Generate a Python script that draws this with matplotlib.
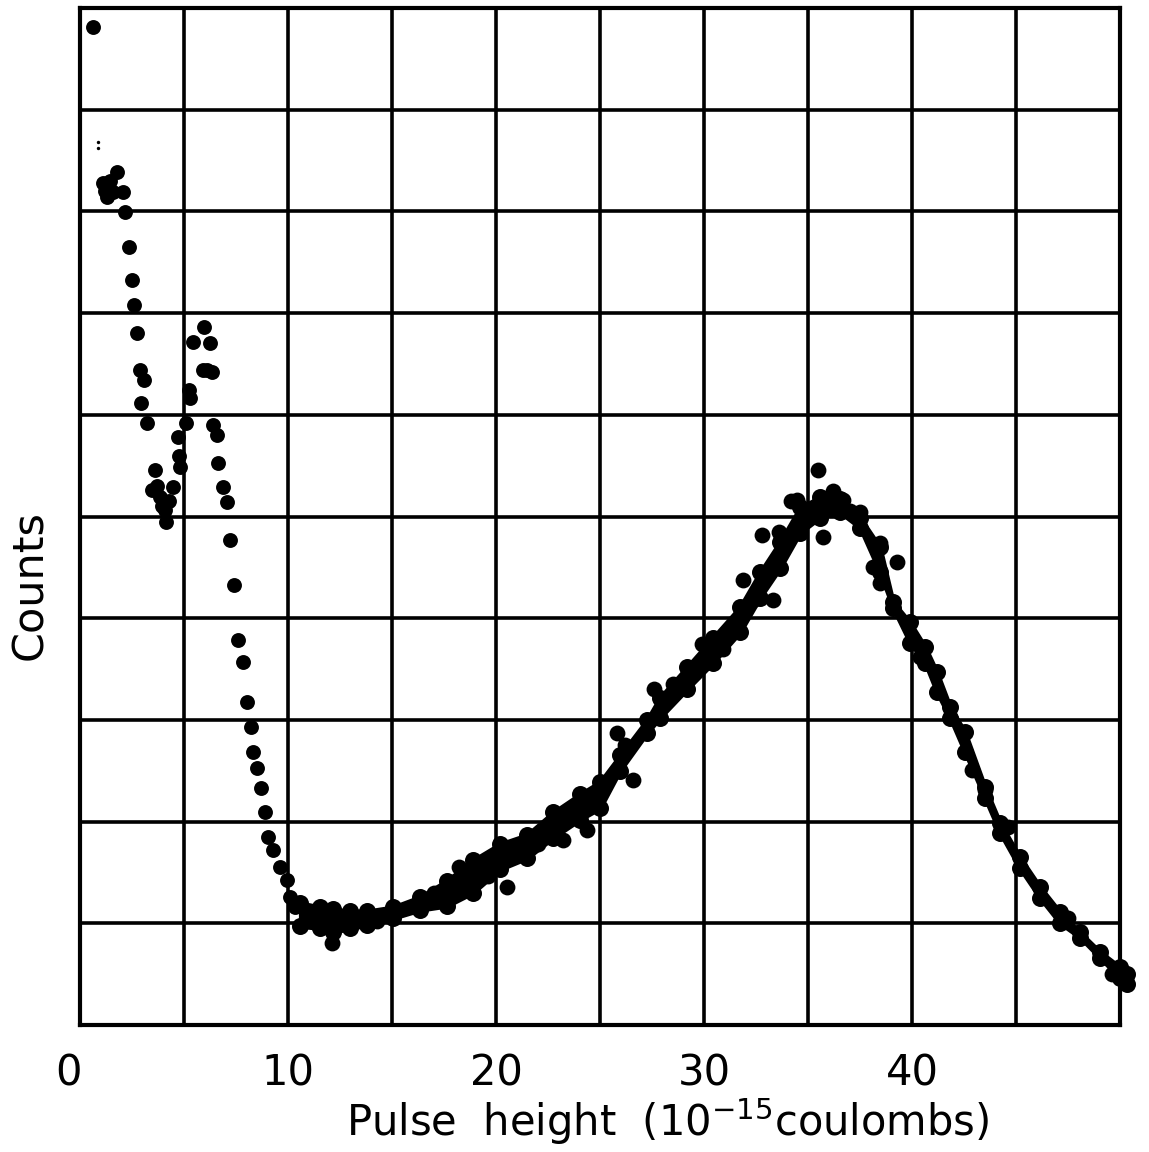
import matplotlib
matplotlib.use("Agg")
import matplotlib.pyplot as plt
from matplotlib.transforms import ScaledTranslation

# ---- data (pulse height in 1e-15 C, counts in grid units) ----
# sparse low-energy dots
dots_x = [0.63, 1.78, 1.11, 1.30, 1.59, 2.07, 1.45, 1.20,
          2.16, 2.36, 2.50, 2.60, 2.74, 2.88, 3.08, 2.93, 3.22,
          3.61, 3.46, 3.85, 4.47, 4.09, 4.13, 3.95, 4.30, 3.70,
          4.71, 4.76, 4.81, 5.10, 5.24, 5.29, 5.43, 5.96, 6.25, 5.91, 6.10, 6.35,
          6.39, 6.59, 6.63, 6.88, 7.07, 7.21, 7.40, 7.60, 7.84, 8.03, 8.22,
          8.32, 8.51, 8.70, 8.89, 9.04, 9.28, 9.62, 9.95, 10.10, 10.34]
dots_y = [9.81, 8.39, 8.28, 8.14, 8.19, 8.19, 8.30, 8.20,
          7.99, 7.65, 7.33, 7.08, 6.80, 6.44, 6.34, 6.12, 5.92,
          5.46, 5.26, 5.19, 5.29, 5.06, 4.95, 5.10, 5.15, 5.30,
          5.78, 5.59, 5.49, 5.92, 6.24, 6.17, 6.72, 6.86, 6.71, 6.44, 6.44, 6.42,
          5.90, 5.80, 5.53, 5.29, 5.14, 4.77, 4.33, 3.79, 3.57, 3.18, 2.93,
          2.68, 2.53, 2.33, 2.09, 1.85, 1.72, 1.55, 1.43, 1.26, 1.16]

specks_x = [0.87, 0.87]
specks_y = [8.68, 8.62]

# dense band (upper and lower envelope)
band_x = [10.60, 11.54, 12.16, 12.98, 13.80, 15.05, 16.35, 17.64, 18.89,
          20.19, 21.49, 22.74, 24.04, 25.00, 25.96, 27.26, 27.88, 29.18, 30.43,
          31.73, 32.69, 33.65, 34.62, 35.58, 36.54, 37.50, 38.46, 39.09, 39.90,
          40.63, 41.20, 41.83, 42.55, 43.51, 44.23, 45.19, 46.15, 47.12, 48.08,
          49.04, 50.00, 50.34]
band_top = [1.20, 1.16, 1.14, 1.12, 1.12, 1.16, 1.26, 1.42, 1.62,
            1.78, 1.87, 2.09, 2.27, 2.39, 2.65, 3.00, 3.22, 3.52, 3.81,
            4.11, 4.45, 4.75, 5.09, 5.19, 5.17, 4.99, 4.70, 4.16, 3.96,
            3.72, 3.47, 3.13, 2.88, 2.34, 1.99, 1.65, 1.36, 1.11, 0.91,
            0.72, 0.57, 0.50]
band_bot = [0.97, 0.95, 0.91, 0.95, 0.98, 1.05, 1.13, 1.17, 1.30,
            1.53, 1.64, 1.84, 2.02, 2.13, 2.50, 2.87, 3.02, 3.30, 3.56,
            3.86, 4.20, 4.49, 4.84, 4.99, 5.04, 4.89, 4.45, 4.10, 3.76,
            3.56, 3.27, 3.02, 2.68, 2.23, 1.89, 1.54, 1.25, 1.00, 0.86,
            0.66, 0.46, 0.40]

# extra scattered points around the band
extra_x = [35.48, 35.72, 32.36, 33.32, 31.88, 25.82, 26.59, 12.12, 20.53, 23.22,
           24.38, 34.47, 36.68, 37.50, 38.46, 39.28, 38.13, 38.46, 42.88, 43.51,
           40.38, 10.9, 14.3, 17.0, 19.6, 22.0, 28.5, 30.9, 44.6, 47.5, 49.6,
           32.8, 33.6, 34.2, 36.2, 37.0, 26.2, 27.6, 29.9, 21.0, 18.2]
extra_y = [5.46, 4.80, 4.18, 4.18, 4.38, 2.87, 2.41, 0.81, 1.36, 1.82,
           1.92, 5.16, 5.16, 5.04, 4.74, 4.55, 4.50, 4.35, 2.51, 2.31,
           3.62, 1.05, 1.02, 1.30, 1.47, 1.78, 3.35, 3.70, 1.95, 1.05, 0.50,
           4.82, 4.85, 5.15, 5.25, 5.05, 2.75, 3.30, 3.75, 1.75, 1.55]

xtick_vals = [0, 10, 20, 30, 40]
xtick_labels = ["0", "10", "20", "30", "40"]

# ---- figure ----
W, H = 1149, 1152
fig = plt.figure(figsize=(W / 100, H / 100), dpi=100)
ax = fig.add_axes([80 / W, 1 - 1025 / H, (1120 - 80) / W, (1025 - 8) / H])
ax.set_xlim(0, 50)
ax.set_ylim(0, 10)

lw = 2.6
for xv in range(5, 50, 5):
    ax.axvline(xv, color="black", lw=lw, zorder=1)
for yv in range(1, 10):
    ax.axhline(yv, color="black", lw=lw, zorder=1)
for sp in ax.spines.values():
    sp.set_linewidth(lw + 0.4)
    sp.set_color("black")

ax.fill_between(band_x, band_bot, band_top, color="black", lw=3,
                edgecolor="black", joinstyle="round", zorder=3, clip_on=False)
ax.scatter(band_x, band_top, s=150, color="black", lw=0, zorder=3, clip_on=False)
ax.scatter(band_x, band_bot, s=150, color="black", lw=0, zorder=3, clip_on=False)
ax.scatter(dots_x, dots_y, s=115, color="black", lw=0, zorder=4, clip_on=False)
ax.scatter(specks_x, specks_y, s=6, color="black", lw=0, zorder=4)
ax.scatter(extra_x, extra_y, s=130, color="black", lw=0, zorder=4, clip_on=False)

ax.set_yticks([])
ax.set_xticks(xtick_vals)
ax.set_xticklabels(xtick_labels)
ax.tick_params(axis="x", length=0, pad=20, labelsize=30)
lbl0 = ax.get_xticklabels()[0]
lbl0.set_transform(lbl0.get_transform() + ScaledTranslation(-12 / 100, 0, fig.dpi_scale_trans))

fig.text(30 / W, 1 - 585 / H, "Counts", rotation=90, fontsize=31,
         ha="center", va="center")
fig.text(668 / W, 1 - 1122 / H, r"Pulse  height  (10$^{-15}$coulombs)",
         fontsize=30, ha="center", va="center")

fig.savefig("out.png", dpi=100, facecolor="white")
